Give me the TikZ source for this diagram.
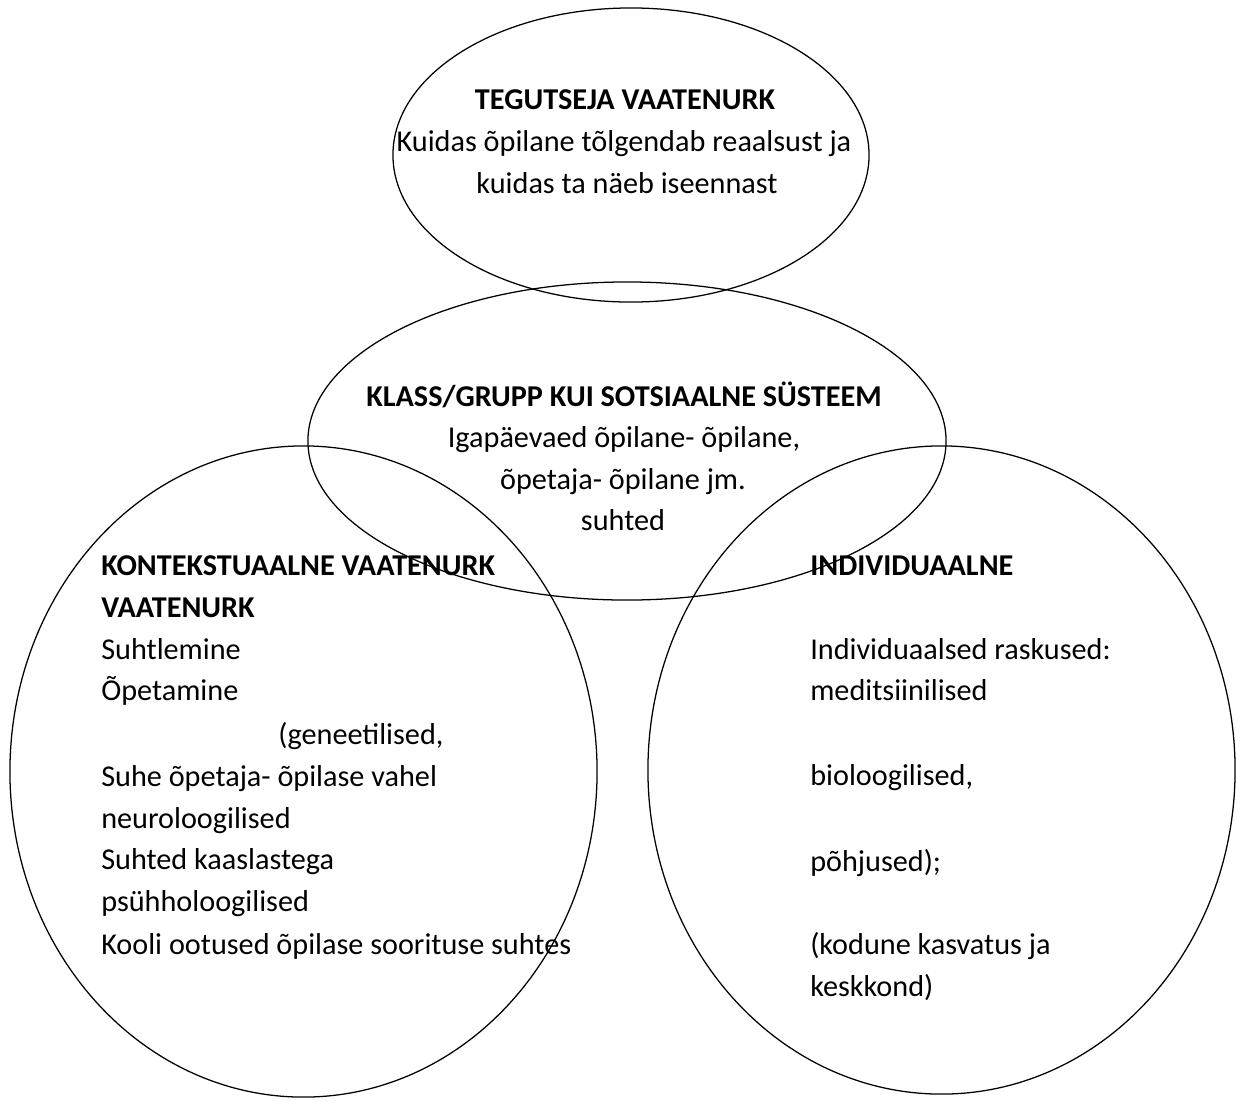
\documentclass[tikz,border=0pt]{standalone}
\usepackage{fontspec}
\setmainfont{Carlito}
\usetikzlibrary{shapes.geometric}

\begin{document}
\begin{tikzpicture}[x=0.025cm, y=-0.025cm,
    ring/.style={draw, ellipse, line width=0.9pt, inner sep=0pt},
    txt/.style={anchor=base west, inner sep=0pt, font=\fontsize{21.5}{26}\selectfont},
    ctxt/.style={anchor=base, inner sep=0pt, font=\fontsize{21.5}{26}\selectfont},
    hd/.style={font=\fontsize{21.5}{26}\selectfont\bfseries}]
    \useasboundingbox (0,0) rectangle (1236,1101);

    % rings
    \node[ring, minimum width=11.9cm, minimum height=7.35cm] (actor) at (631,155) {};
    \node[ring, minimum width=15.95cm, minimum height=7.95cm] (group) at (627,441) {};
    \node[ring, minimum width=14.675cm, minimum height=16.275cm] (context) at (303.5,771.5) {};
    \node[ring, minimum width=14.675cm, minimum height=16.2cm] (indiv) at (941.5,770) {};

    % top
    \node[ctxt, hd] (actor1) at (625,109) {TEGUTSEJA VAATENURK};
    \node[ctxt] (actor2) at (624,151) {Kuidas õpilane tõlgendab reaalsust ja};
    \node[ctxt] (actor3) at (627,193) {kuidas ta näeb iseennast};

    % middle
    \node[ctxt, hd] (group1) at (624,406) {KLASS/GRUPP KUI SOTSIAALNE SÜSTEEM};
    \node[ctxt] (group2) at (624,447) {Igapäevaed õpilane- õpilane,};
    \node[ctxt] (group3) at (623,489) {õpetaja- õpilane jm.};
    \node[ctxt] (group4) at (623,530) {suhted};

    % left
    \node[txt, hd] (cont1) at (101,575.5) {KONTEKSTUAALNE VAATENURK};
    \node[txt, hd] (cont2) at (101,617) {VAATENURK};
    \node[txt] (cont3) at (101,659) {Suhtlemine};
    \node[txt] (cont4) at (101,700) {Õpetamine};
    \node[txt] (cont5) at (278,744.5) {(geneetilised,};
    \node[txt] (cont6) at (101,786) {Suhe õpetaja- õpilase vahel};
    \node[txt] (cont7) at (101,828) {neuroloogilised};
    \node[txt] (cont8) at (101,869.5) {Suhted kaaslastega};
    \node[txt] (cont9) at (101,911) {psühholoogilised};
    \node[txt] (cont10) at (101,954) {Kooli ootused õpilase soorituse suhtes};

    % right
    \node[txt, hd] (ind1) at (810,575.5) {INDIVIDUAALNE};
    \node[txt] (ind2) at (810,659) {Individuaalsed raskused:};
    \node[txt] (ind3) at (810,700) {meditsiinilised};
    \node[txt] (ind4) at (810,785) {bioloogilised,};
    \node[txt] (ind5) at (810,871) {põhjused);};
    \node[txt] (ind6) at (810,954) {(kodune kasvatus ja};
    \node[txt] (ind7) at (810,996) {keskkond)};
\end{tikzpicture}
\end{document}
